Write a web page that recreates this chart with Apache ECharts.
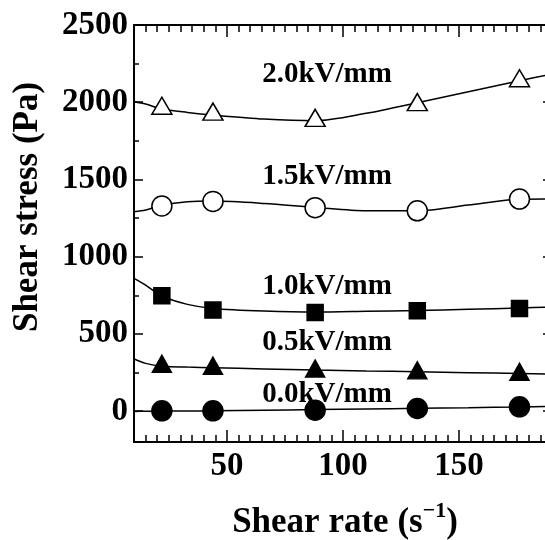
<!DOCTYPE html>
<html>
<head>
<meta charset="utf-8">
<script src="https://cdn.jsdelivr.net/npm/echarts@6/dist/echarts.min.js"></script>
<style>
html,body{margin:0;padding:0;background:#fff;}
#chart{width:545px;height:540px;}
</style>
</head>
<body>
<div id="chart"></div>
<script>
// ---- data ----
const shearRate = [22, 44, 88, 132, 176];
const stress00 = [2, 2, 6, 17, 28];
const stress05 = [306, 294, 276, 264, 255];
const stress10 = [747, 654, 639, 650, 665];
const stress15 = [1328, 1358, 1317, 1297, 1373];
const stress20 = [1977, 1939, 1899, 2001, 2155];

// fitted curves
const fitRate = [10, 15, 22, 33, 44, 66, 88, 110, 132, 154, 176, 190];
const fit00 = [-2, -1, 0, 1, 2, 6, 10, 14, 18, 22, 27, 31];
const fit05 = [337, 309, 291, 285, 281, 273, 266, 260, 255, 249, 244, 240];
const fit10 = [859, 816, 745, 691, 665, 648, 641, 646, 652, 659, 667, 675];
const fit15 = [1291, 1302, 1334, 1356, 1360, 1345, 1319, 1297, 1297, 1334, 1371, 1373];
const fit20 = [2003, 1988, 1956, 1934, 1917, 1891, 1880, 1928, 1997, 2068, 2139, 2183];

const fieldLabels = ['0.0kV/mm', '0.5kV/mm', '1.0kV/mm', '1.5kV/mm', '2.0kV/mm'];

// ticks
const xMajor = [50, 100, 150];
const xMinor = [];
for (let v = 10; v <= 190; v += 5) xMinor.push(v);
const yMajor = [0, 500, 1000, 1500, 2000, 2500];
const yMinor = [250, 750, 1250, 1750, 2250];

const xTitle = ['Shear rate (s', '\u22121', ')'];
const yTitle = 'Shear stress (Pa)';

// ---- chart ----
const FONT = '"Liberation Serif", "Times New Roman", Times, serif';
const BLACK = '#000';
const chart = echarts.init(document.getElementById('chart'), null, {renderer: 'canvas'});

function pair(xy, ys) { return xy.map((x, i) => [x, ys[i]]); }

function labelStyle(vals, margin) {
  return {show: true, customValues: vals, margin: margin, color: BLACK, fontFamily: FONT,
    fontWeight: 'bold', fontSize: 33, formatter: v => String(v)};
}
function xAx(pos, ticks, len, withLine, labels) {
  return {
    type: 'value', min: 10, max: 190, position: pos,
    axisLine: {show: withLine, onZero: false, lineStyle: {color: BLACK, width: 2}},
    axisTick: {show: true, inside: true, length: len, customValues: ticks, lineStyle: {color: BLACK, width: 1.5}},
    axisLabel: labels ? labelStyle(labels, 8) : {show: false},
    splitLine: {show: false}
  };
}
function yAx(pos, ticks, len, withLine, labels) {
  return {
    type: 'value', min: -200, max: 2500, position: pos,
    axisLine: {show: withLine, onZero: false, lineStyle: {color: BLACK, width: 2}},
    axisTick: {show: true, inside: true, length: len, customValues: ticks, lineStyle: {color: BLACK, width: 1.5}},
    axisLabel: labels ? labelStyle(labels, 6) : {show: false},
    splitLine: {show: false}
  };
}

function curve(ys) {
  return {type: 'line', data: pair(fitRate, ys), smooth: 0.3, showSymbol: false, symbol: 'none',
    lineStyle: {color: BLACK, width: 1.5}, z: 2, silent: true};
}
function marks(ys, symbol, size, fill) {
  return {type: 'scatter', data: pair(shearRate, ys), symbol: symbol, symbolSize: size,
    itemStyle: {color: fill, borderColor: BLACK, borderWidth: 1.5, opacity: 1}, z: 3};
}

const labelY = [395, 343, 287, 177, 75];

chart.setOption({
  animation: false,
  backgroundColor: '#fff',
  grid: {left: 134, top: 25, width: 418, height: 417, outerBoundsMode: 'none', containLabel: false},
  xAxis: [
    xAx('bottom', xMajor, 12, true, xMajor),
    xAx('bottom', xMinor, 7, false, null),
    xAx('top', xMajor, 12, true, null),
    xAx('top', xMinor, 7, false, null)
  ],
  yAxis: [
    yAx('left', yMajor, 9, true, yMajor),
    yAx('left', yMinor, 5, false, null),
    yAx('right', yMajor, 9, true, null),
    yAx('right', yMinor, 5, false, null)
  ],
  series: [
    curve(fit00), curve(fit05), curve(fit10), curve(fit15), curve(fit20),
    marks(stress00, 'circle', 20, BLACK),
    marks(stress05, 'triangle', [19, 17], BLACK),
    marks(stress10, 'rect', 16, BLACK),
    marks(stress15, 'circle', 20, '#fff'),
    marks(stress20, 'triangle', [20, 17], '#fff')
  ],
  graphic: [
    ...fieldLabels.map((t, i) => ({
      type: 'text', x: 327, y: labelY[i], z: 10,
      style: {text: t, align: 'center', verticalAlign: 'middle', fill: BLACK,
        font: 'bold 29px ' + FONT}
    })),
    {
      type: 'text', x: 28, y: 207, rotation: Math.PI / 2, z: 10,
      style: {text: yTitle, align: 'center', verticalAlign: 'middle', fill: BLACK, font: 'bold 35px ' + FONT}
    },
    {
      type: 'text', x: 345, y: 523, z: 10,
      style: {
        text: '{a|' + xTitle[0] + '}{b|' + xTitle[1] + '}{a|' + xTitle[2] + '}',
        align: 'center', verticalAlign: 'middle',
        rich: {
          a: {fontFamily: FONT, fontWeight: 'bold', fontSize: 35, fill: BLACK, color: BLACK, lineHeight: 46},
          b: {fontFamily: FONT, fontWeight: 'bold', fontSize: 22, fill: BLACK, color: BLACK, verticalAlign: 'top', lineHeight: 22}
        }
      }
    }
  ]
});
</script>
</body>
</html>
